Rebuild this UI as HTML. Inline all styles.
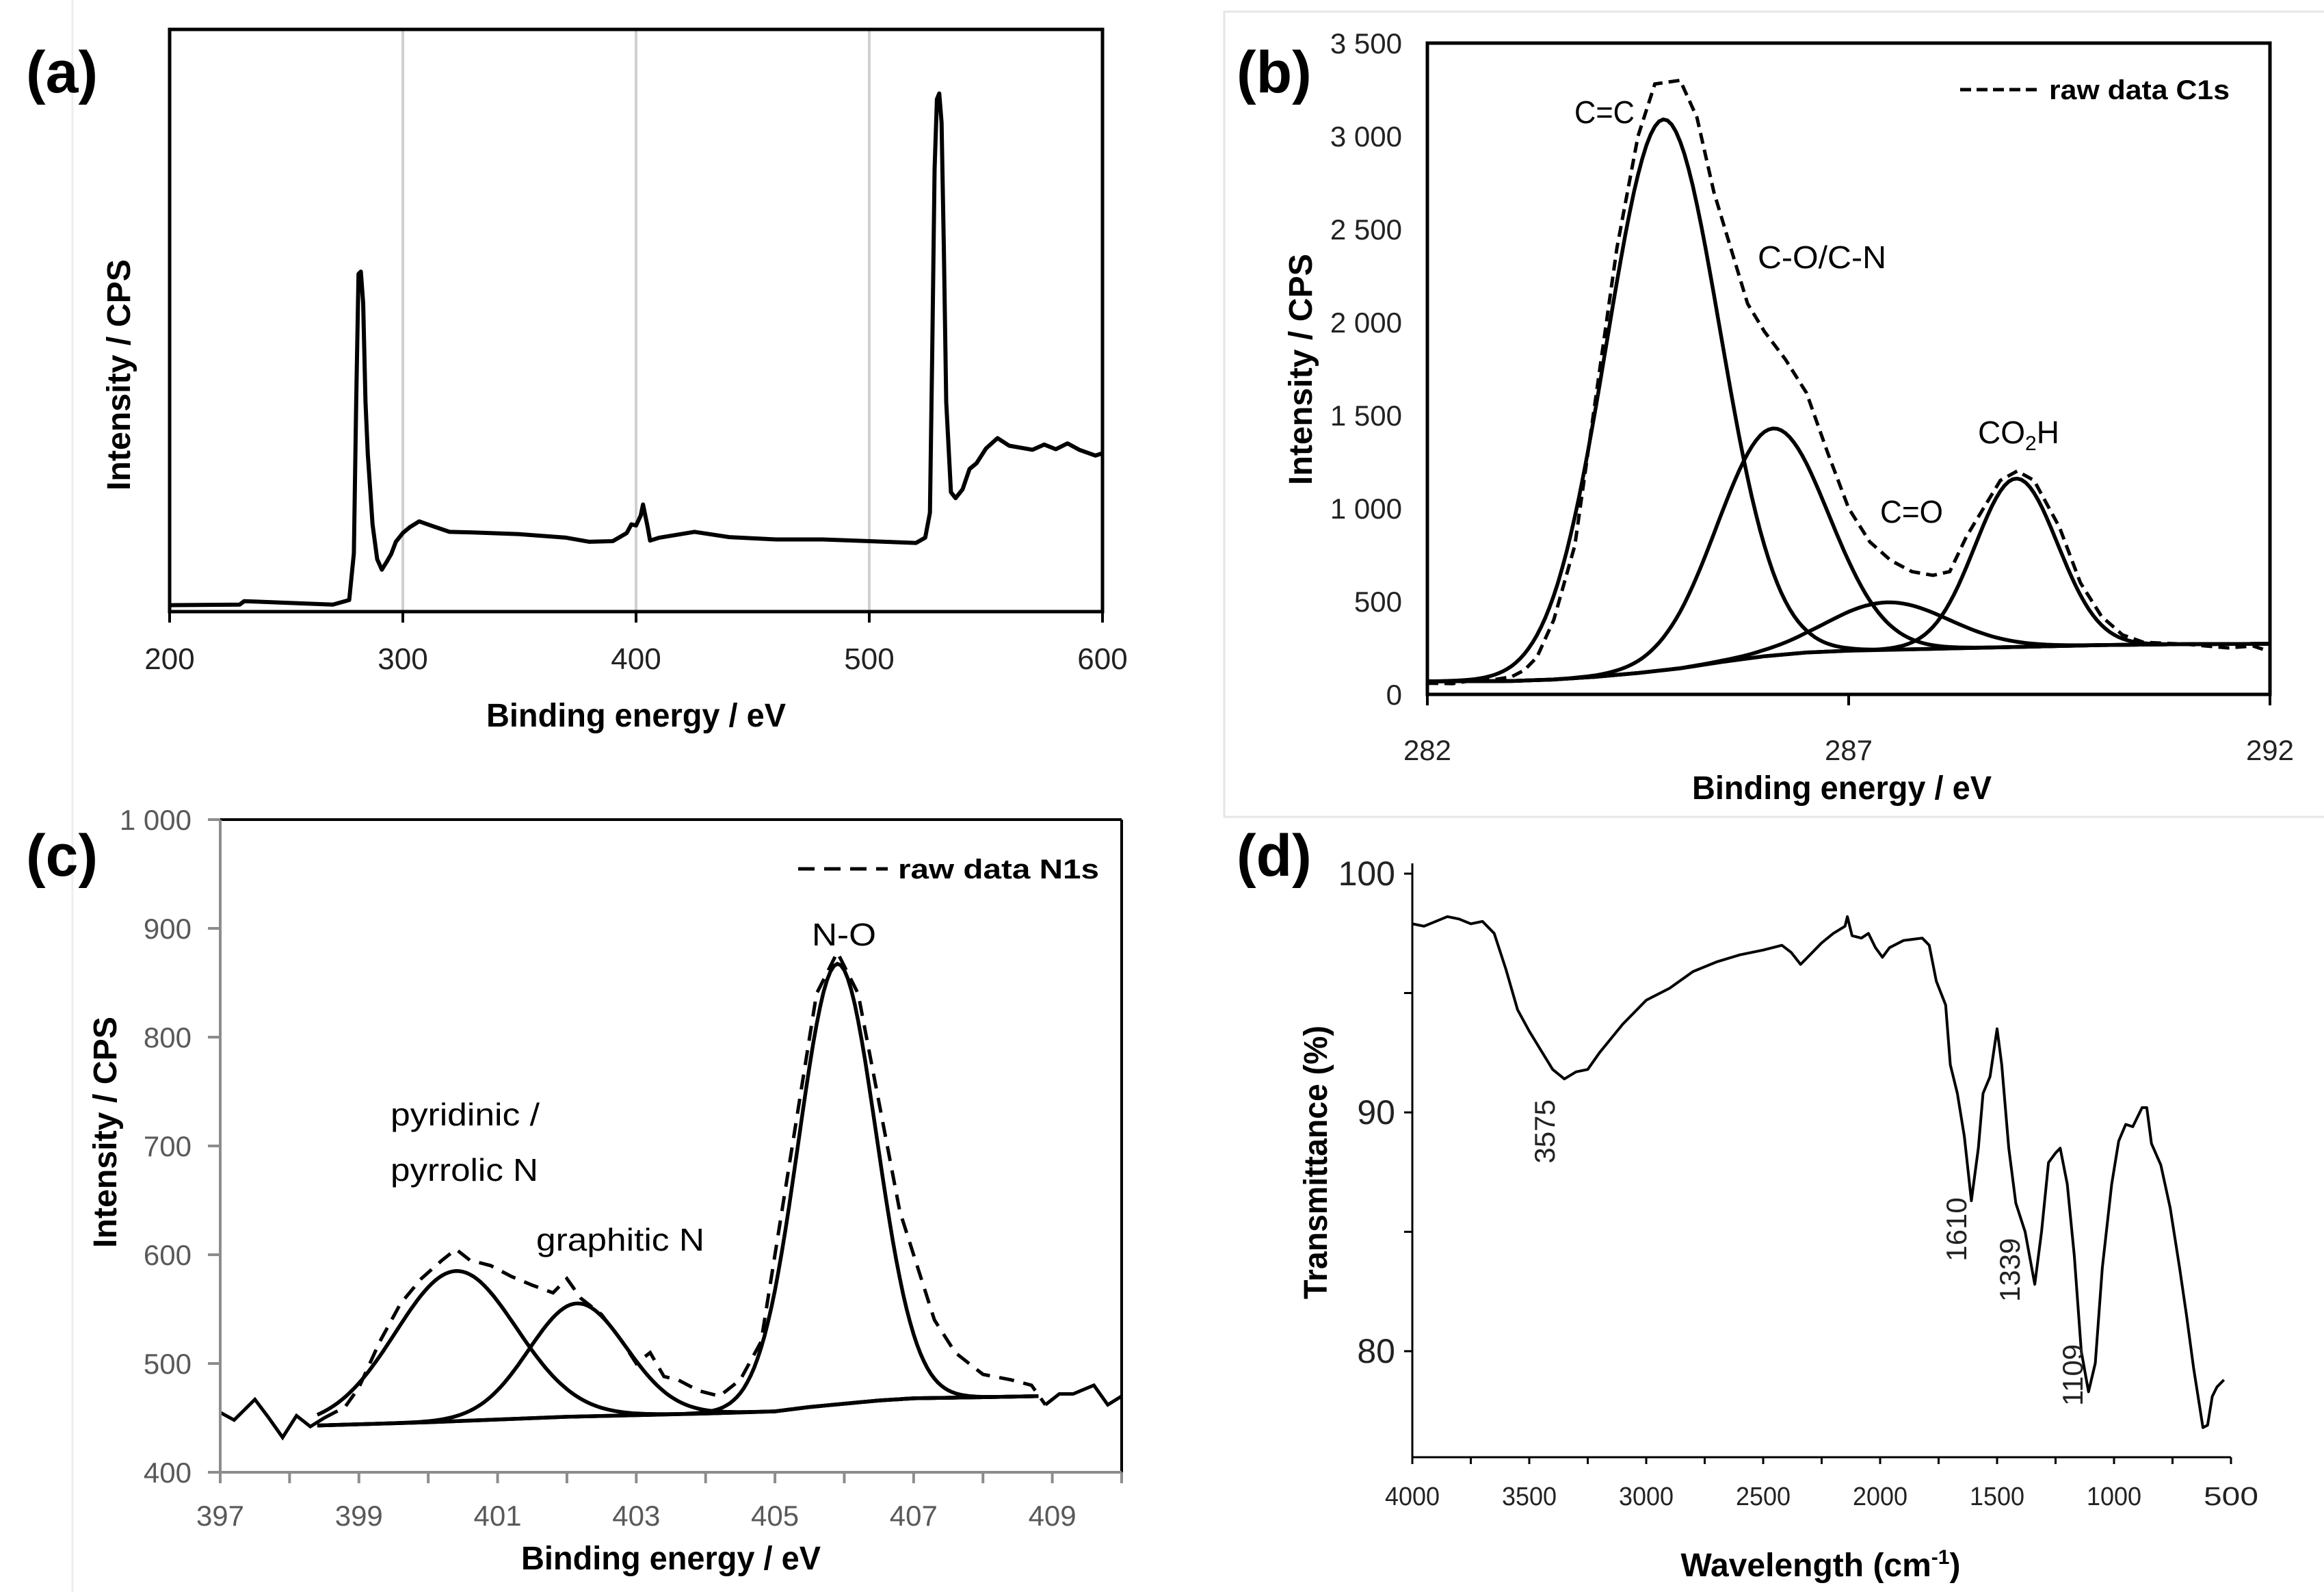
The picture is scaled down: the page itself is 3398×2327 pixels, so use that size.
<!DOCTYPE html>
<html><head><meta charset="utf-8"><style>
html,body{margin:0;padding:0;background:#fff;}
svg{display:block;}
text{font-family:"Liberation Sans",sans-serif;}
</style></head><body>
<svg id="fig" width="3398" height="2327" viewBox="0 0 3398 2327" xmlns="http://www.w3.org/2000/svg">
<rect x="0" y="0" width="3398" height="2327" fill="#fff"/>
<rect x="1790" y="17" width="1610" height="1177" fill="none" stroke="#e6e6e6" stroke-width="3"/>
<line x1="106" y1="0" x2="106" y2="2327" stroke="#eeeeee" stroke-width="3"/>
<g id="pa"></g>
<g id="pb"></g>
<g id="pc"></g>
<g id="pd"></g>
</svg>
<script>
// ---------- Panel (a) survey ----------
const aTicks = [200, 300, 400, 500, 600];
const aX = [200,230,232,270,277,279,280,281,282,283,284,285,287,289,291,293,295,297,300,303,307,312,320,330,350,370,380,390,396,398,400,402,403,405,406,410,425,440,460,480,500,520,524,526,527,528,529,530,531,532,533,535,537,540,543,546,550,555,560,570,575,580,585,590,597,600];
const aY = [1.1,1.2,1.8,1.2,2,10,36,58,58.4,53,36,27,15,9,7.2,8.5,9.9,12,13.5,14.5,15.5,14.8,13.7,13.6,13.3,12.7,12.0,12.1,13.5,15,14.8,16.5,18.4,14.5,12.2,12.7,13.7,12.8,12.4,12.4,12.1,11.8,12.7,17,45,76,88,89,84,62,36,20.5,19.5,21,24.5,25.5,28,29.8,28.5,27.8,28.7,27.9,28.9,27.8,26.8,27.2];
const aGrid = [300, 400, 500];

// ---------- Panel (b) C1s ----------
const bXTicks = [282, 287, 292];
const bYTicks = [0,500,1000,1500,2000,2500,3000,3500];
const bYLabels = ["0","500","1 000","1 500","2 000","2 500","3 000","3 500"];
const bRawX = [282,282.3,282.5,282.8,283,283.15,283.3,283.5,283.75,284,284.25,284.5,284.7,284.85,285,285.2,285.4,285.6,285.8,286,286.25,286.5,286.75,287,287.25,287.5,287.75,288,288.2,288.4,288.6,288.8,289,289.2,289.5,289.75,290,290.25,290.5,291,291.5,291.8,292];
const bRawY = [60,58,72,80,95,130,200,400,800,1600,2400,3000,3280,3290,3300,3100,2700,2400,2100,1950,1800,1620,1300,1000,820,720,660,640,660,850,1000,1150,1200,1150,900,600,420,320,280,270,250,260,230];
const bBgX = [282,283,283.5,284,284.5,285,285.5,286,286.5,287,288,289,290,291,292];
const bBgY = [70,72,80,95,115,140,175,205,225,235,245,255,265,270,272];
const bCenters = [284.8, 286.1, 287.46, 288.99];
const bAmps = [2960, 1220, 255, 905];
const bSigmas = [0.67, 0.66, 0.73, 0.49];

// ---------- Panel (c) N1s ----------
const cXTicks = [397,398,399,400,401,402,403,404,405,406,407,408,409,410];
const cXLabels = [397,399,401,403,405,407,409];
const cYTicks = [400,500,600,700,800,900,1000];
const cYLabels = ["400","500","600","700","800","900","1 000"];
const cRawX = [397,397.2,397.5,397.7,397.9,398.1,398.3,398.5,398.8,399,399.3,399.6,399.9,400.2,400.4,400.6,400.9,401.2,401.5,401.8,402,402.2,402.5,402.8,403,403.2,403.4,403.6,403.9,404.2,404.5,404.8,405,405.3,405.6,405.9,406.2,406.5,406.8,407,407.3,407.6,408,408.4,408.7,408.9,409.1,409.3,409.6,409.8,410];
const cRawY = [455,448,467,450,432,452,442,450,460,478,520,555,578,595,605,595,590,580,572,565,578,560,545,520,500,510,488,485,475,470,485,520,600,720,840,878,840,740,640,600,540,510,490,485,480,462,472,472,480,462,470];
const cBgX = [398.4,400,402,404,405,405.5,406,406.5,407,408,408.8];
const cBgY = [443,446,451,454,456,460,463,466,468,469,470];
const cCenters = [400.4, 402.15, 405.9];
const cAmps = [138, 104, 405];
const cSigmas = [0.87, 0.70, 0.56];

// ---------- Panel (d) FTIR ----------
const dXTicks = [4000,3500,3000,2500,2000,1500,1000,500];
const dYTicks = [100,90,80];
const dX = [4000,3950,3900,3850,3800,3750,3700,3650,3600,3550,3500,3450,3400,3350,3300,3250,3200,3100,3000,2900,2800,2700,2600,2500,2420,2380,2340,2300,2250,2200,2150,2140,2120,2080,2050,2020,1990,1960,1900,1820,1790,1760,1720,1700,1670,1640,1610,1580,1560,1530,1500,1480,1450,1420,1380,1339,1310,1280,1250,1230,1200,1170,1140,1109,1080,1050,1010,980,950,920,880,860,840,800,760,720,690,660,620,600,580,560,530];
const dY = [97.9,97.8,98.0,98.2,98.1,97.9,98.0,97.5,96.0,94.3,93.4,92.6,91.8,91.4,91.7,91.8,92.5,93.7,94.7,95.2,95.9,96.3,96.6,96.8,97.0,96.7,96.2,96.6,97.1,97.5,97.8,98.2,97.4,97.3,97.5,96.9,96.5,96.9,97.2,97.3,97.0,95.5,94.5,92.0,90.8,89.0,86.3,88.5,90.8,91.5,93.5,92.0,88.5,86.2,85.0,82.8,85.0,87.9,88.3,88.5,87.0,84.0,80.0,78.3,79.5,83.5,87.0,88.8,89.5,89.4,90.2,90.2,88.7,87.8,86.0,83.5,81.5,79.3,76.8,76.9,78.1,78.5,78.8];
const dPeakText = ["3575", "1610", "1339", "1109"];
const dPeakLabelW = [3433, 1673, 1444, 1176];
const dPeakLabelT = [89.2, 85.1, 83.4, 79.0];

const NS = "http://www.w3.org/2000/svg";
function mk(parent, tag, attrs, txt){
  const e = document.createElementNS(NS, tag);
  for (const k in attrs) e.setAttribute(k, attrs[k]);
  if (txt !== undefined) e.textContent = txt;
  parent.appendChild(e);
  return e;
}
function lin(d0,d1,r0,r1){ return v => r0 + (v-d0)/(d1-d0)*(r1-r0); }
function pathFrom(xs, ys, sx, sy){
  let d = "";
  for (let i=0;i<xs.length;i++) d += (i?"L":"M") + sx(xs[i]).toFixed(1) + "," + sy(ys[i]).toFixed(1);
  return d;
}
function interp(xs, ys, x){
  if (x<=xs[0]) return ys[0];
  for (let i=1;i<xs.length;i++) if (x<=xs[i]) { const t=(x-xs[i-1])/(xs[i]-xs[i-1]); return ys[i-1]+t*(ys[i]-ys[i-1]); }
  return ys[ys.length-1];
}

// ===== Panel a =====
(function(){
  const g = document.getElementById('pa');
  const L=248,R=1612,T=43,B=894;
  const sx = lin(200,600,L,R), sy = lin(0,100,B,T);
  for (const v of aGrid){
    const gl = mk(g,'line',{x1:sx(v),x2:sx(v),y1:T,y2:B,stroke:'#d0d0d0','stroke-width':4});
    
    
  }
  const p = mk(g,'path',{d:pathFrom(aX,aY,sx,sy),fill:'none',stroke:'#000','stroke-width':6,'stroke-linejoin':'round'});
  
  
  const box = mk(g,'rect',{x:L,y:T,width:R-L,height:B-T,fill:'none',stroke:'#000','stroke-width':5});
  
  
  for (const v of aTicks){
    mk(g,'line',{x1:sx(v),x2:sx(v),y1:B,y2:B+16,stroke:'#000','stroke-width':4});
    const t = mk(g,'text',{x:sx(v),y:B+84,'text-anchor':'middle','font-size':44,fill:'#222'},String(v));
    
    
  }
  const xt = mk(g,'text',{x:(L+R)/2,y:1062,'text-anchor':'middle','font-size':48,'font-weight':'bold',textLength:438,lengthAdjust:'spacingAndGlyphs'},'Binding energy / eV');
  
  
  const yt = mk(g,'text',{x:0,y:0,transform:'translate(190,548) rotate(-90)','text-anchor':'middle','font-size':48,'font-weight':'bold',textLength:338,lengthAdjust:'spacingAndGlyphs'},'Intensity / CPS');
  
  
  const lab = mk(g,'text',{x:38,y:135,'font-size':86,'font-weight':'bold'},'(a)');
  
  
})();

// ===== Panel b =====
(function(){
  const g = document.getElementById('pb');
  const L=2087,R=3319,T=63,B=1015;
  const sx = lin(282,292,L,R), sy = lin(0,3500,B,T);
  for (let k=0;k<bCenters.length;k++){
    const xs=[], ys=[];
    for (let x=282;x<=292.0001;x+=0.05){
      xs.push(x);
      ys.push(interp(bBgX,bBgY,x)+bAmps[k]*Math.exp(-Math.pow(x-bCenters[k],2)/(2*bSigmas[k]*bSigmas[k])));
    }
    const p = mk(g,'path',{d:pathFrom(xs,ys,sx,sy),fill:'none',stroke:'#000','stroke-width':5.5});
    
    
  }
  const bg = mk(g,'path',{d:pathFrom(bBgX,bBgY,sx,sy),fill:'none',stroke:'#000','stroke-width':5.5});
  
  
  const raw = mk(g,'path',{d:pathFrom(bRawX,bRawY,sx,sy),fill:'none',stroke:'#000','stroke-width':5,'stroke-dasharray':'16,9'});
  
  
  const box = mk(g,'rect',{x:L,y:T,width:R-L,height:B-T,fill:'none',stroke:'#000','stroke-width':5});
  
  
  for (const v of bXTicks){
    mk(g,'line',{x1:sx(v),x2:sx(v),y1:B,y2:B+16,stroke:'#000','stroke-width':4});
    const t = mk(g,'text',{x:sx(v),y:B+96,'text-anchor':'middle','font-size':42,fill:'#222'},String(v));
    
    
  }
  for (let i=0;i<bYTicks.length;i++){
    const t = mk(g,'text',{x:2050,y:sy(bYTicks[i])+15,'text-anchor':'end','font-size':42,fill:'#222'},bYLabels[i]);
    
    
  }
  const xt = mk(g,'text',{x:(L+R)/2-10,y:1168,'text-anchor':'middle','font-size':48,'font-weight':'bold',textLength:438,lengthAdjust:'spacingAndGlyphs'},'Binding energy / eV');
  
  
  const yt = mk(g,'text',{x:0,y:0,transform:'translate(1918,540) rotate(-90)','text-anchor':'middle','font-size':48,'font-weight':'bold',textLength:338,lengthAdjust:'spacingAndGlyphs'},'Intensity / CPS');
  
  
  const lab = mk(g,'text',{x:1808,y:135,'font-size':86,'font-weight':'bold'},'(b)');
  
  
  const ll = mk(g,'line',{x1:2866,x2:2986,y1:131,y2:131,stroke:'#000','stroke-width':5,'stroke-dasharray':'16,8'});
  
  
  const lt = mk(g,'text',{x:2996,y:145,'font-size':40,'font-weight':'bold',textLength:264,lengthAdjust:'spacingAndGlyphs'},'raw data C1s');
  
  
  const ann = [['C=C',2302,180,'label-c-c',88],['C-O/C-N',2570,392,'label-c-o-c-n',188],['C=O',2749,764,'label-c-o',92]];
  for (const a of ann){
    const t = mk(g,'text',{x:a[1],y:a[2],'text-anchor':'start','font-size':46,textLength:a[4],lengthAdjust:'spacingAndGlyphs'},a[0]);
    
    
  }
  const co = mk(g,'text',{x:2892,y:648,'text-anchor':'start','font-size':46},'');
  
  
  mk(co,'tspan',{},'CO');
  mk(co,'tspan',{'font-size':30,dy:10},'2');
  mk(co,'tspan',{dy:-10},'H');
})();

// ===== Panel c =====
(function(){
  const g = document.getElementById('pc');
  const L=322,R=1640,T=1198,B=2152;
  const sx = lin(397,410,L,R), sy = lin(400,1000,B,T);
  for (let k=0;k<cCenters.length;k++){
    const xs=[], ys=[];
    for (let x=398.4;x<=408.8001;x+=0.05){
      xs.push(x);
      ys.push(interp(cBgX,cBgY,x)+cAmps[k]*Math.exp(-Math.pow(x-cCenters[k],2)/(2*cSigmas[k]*cSigmas[k])));
    }
    const p = mk(g,'path',{d:pathFrom(xs,ys,sx,sy),fill:'none',stroke:'#000','stroke-width':5.5});
    
    
  }
  const bg = mk(g,'path',{d:pathFrom(cBgX,cBgY,sx,sy),fill:'none',stroke:'#000','stroke-width':5.5});
  
  
  const inX=[],inY=[],lX=[],lY=[],rX=[],rY=[];
  for (let i=0;i<cRawX.length;i++){
    const x=cRawX[i];
    if (x<=398.5){lX.push(x);lY.push(cRawY[i]);}
    if (x>=398.5 && x<=408.9){inX.push(x);inY.push(cRawY[i]);}
    if (x>=408.9){rX.push(x);rY.push(cRawY[i]);}
  }
  const r1 = mk(g,'path',{d:pathFrom(lX,lY,sx,sy),fill:'none',stroke:'#000','stroke-width':5});
  
  
  const r2 = mk(g,'path',{d:pathFrom(inX,inY,sx,sy),fill:'none',stroke:'#000','stroke-width':5,'stroke-dasharray':'22,14'});
  
  
  const r3 = mk(g,'path',{d:pathFrom(rX,rY,sx,sy),fill:'none',stroke:'#000','stroke-width':5});
  
  
  mk(g,'line',{x1:L,x2:R,y1:T,y2:T,stroke:'#000','stroke-width':4});
  mk(g,'line',{x1:R,x2:R,y1:T,y2:B,stroke:'#000','stroke-width':4});
  const ax1 = mk(g,'line',{x1:L,x2:L,y1:T,y2:B,stroke:'#8c8c8c','stroke-width':4});
  
  
  const ax2 = mk(g,'line',{x1:L,x2:R,y1:B,y2:B,stroke:'#8c8c8c','stroke-width':4});
  
  
  for (const v of cXTicks) mk(g,'line',{x1:sx(v),x2:sx(v),y1:B,y2:B+16,stroke:'#8c8c8c','stroke-width':4});
  for (const v of cXLabels){
    const t = mk(g,'text',{x:sx(v),y:B+78,'text-anchor':'middle','font-size':42,fill:'#595959'},String(v));
    
    
  }
  for (let i=0;i<cYTicks.length;i++){
    mk(g,'line',{x1:L-18,x2:L,y1:sy(cYTicks[i]),y2:sy(cYTicks[i]),stroke:'#8c8c8c','stroke-width':4});
    const t = mk(g,'text',{x:280,y:sy(cYTicks[i])+15,'text-anchor':'end','font-size':42,fill:'#595959'},cYLabels[i]);
    
    
  }
  const xt = mk(g,'text',{x:981,y:2294,'text-anchor':'middle','font-size':48,'font-weight':'bold',textLength:438,lengthAdjust:'spacingAndGlyphs'},'Binding energy / eV');
  
  
  const yt = mk(g,'text',{x:0,y:0,transform:'translate(170,1655) rotate(-90)','text-anchor':'middle','font-size':48,'font-weight':'bold',textLength:338,lengthAdjust:'spacingAndGlyphs'},'Intensity / CPS');
  
  
  const lab = mk(g,'text',{x:38,y:1280,'font-size':86,'font-weight':'bold'},'(c)');
  
  
  const ll = mk(g,'line',{x1:1167,x2:1298,y1:1270,y2:1270,stroke:'#000','stroke-width':5,'stroke-dasharray':'24,14'});
  
  
  const lt = mk(g,'text',{x:1313,y:1284,'font-size':40,'font-weight':'bold',textLength:294,lengthAdjust:'spacingAndGlyphs'},'raw data N1s');
  
  
  const ann = [['N-O',1187,1382,'label-n-o',94],['pyridinic /',571,1645,'label-pyridinic',218],['pyrrolic N',571,1726,'label-pyrrolic',216],['graphitic N',784,1828,'label-graphitic',246]];
  for (const a of ann){
    const t = mk(g,'text',{x:a[1],y:a[2],'text-anchor':'start','font-size':46,textLength:a[4],lengthAdjust:'spacingAndGlyphs'},a[0]);
    
    
  }
})();

// ===== Panel d =====
(function(){
  const g = document.getElementById('pd');
  const L=2065,R=3262,B=2130;
  const sx = lin(4000,500,L,R), sy = lin(80,100,1975,1277);
  const p = mk(g,'path',{d:pathFrom(dX,dY,sx,sy),fill:'none',stroke:'#000','stroke-width':4,'stroke-linejoin':'round'});
  
  
  const ay = mk(g,'line',{x1:L,x2:L,y1:1262,y2:B,stroke:'#000','stroke-width':3});
  
  
  const ax = mk(g,'line',{x1:L,x2:R,y1:B,y2:B,stroke:'#000','stroke-width':3});
  
  
  for (let w=4000; w>=500; w-=250) mk(g,'line',{x1:sx(w),x2:sx(w),y1:B,y2:B+10,stroke:'#000','stroke-width':3});
  for (let t=100; t>=80; t-=5) mk(g,'line',{x1:L-12,x2:L,y1:sy(t),y2:sy(t),stroke:'#000','stroke-width':3});
  for (const v of dXTicks){
    const t = mk(g,'text',{x:sx(v),y:B+70,'text-anchor':'middle','font-size':38,fill:'#222',textLength:80,lengthAdjust:'spacingAndGlyphs'},String(v));
    
    
  }
  for (const v of dYTicks){
    const t = mk(g,'text',{x:2040,y:sy(v)+17,'text-anchor':'end','font-size':50,fill:'#222'},String(v));
    
    
  }
  for (let i=0;i<dPeakText.length;i++){
    const x = sx(dPeakLabelW[i]), y = sy(dPeakLabelT[i]);
    const t = mk(g,'text',{x:0,y:0,transform:'translate('+(x+14).toFixed(1)+','+y.toFixed(1)+') rotate(-90)','text-anchor':'middle','font-size':42,fill:'#222'},dPeakText[i]);
    
    
  }
  const xt = mk(g,'text',{x:2662,y:2304,'text-anchor':'middle','font-size':48,'font-weight':'bold'},'');
  
  
  mk(xt,'tspan',{},'Wavelength (cm');
  mk(xt,'tspan',{'font-size':30,dy:-18},'-1');
  mk(xt,'tspan',{dy:18},')');
  const yt = mk(g,'text',{x:0,y:0,transform:'translate(1940,1699) rotate(-90)','text-anchor':'middle','font-size':48,'font-weight':'bold',textLength:400,lengthAdjust:'spacingAndGlyphs'},'Transmittance (%)');
  
  
  const lab = mk(g,'text',{x:1808,y:1280,'font-size':86,'font-weight':'bold'},'(d)');
  
  
})();
</script>
</body></html>
